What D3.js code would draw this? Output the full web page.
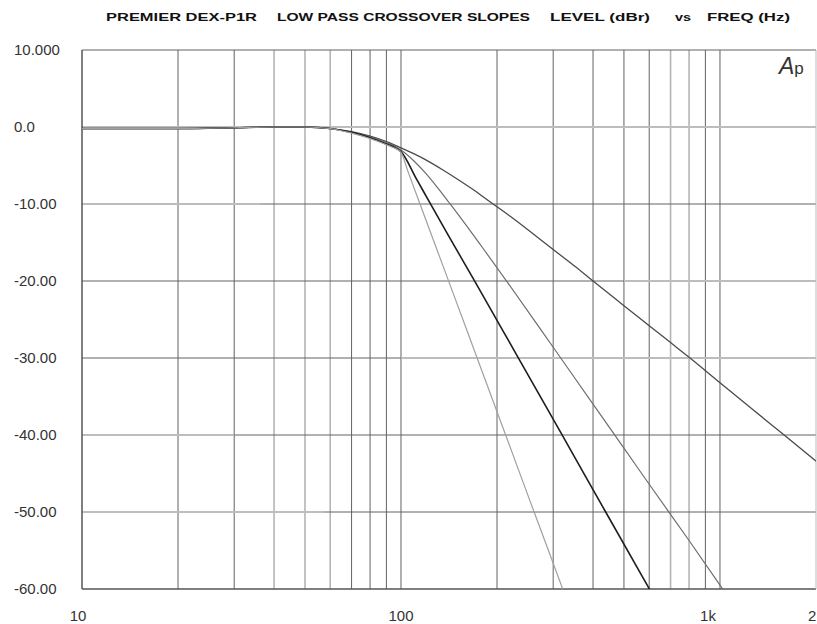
<!DOCTYPE html>
<html>
<head>
<meta charset="utf-8">
<script src="https://cdn.jsdelivr.net/npm/d3@7"></script>
<style>
    body { margin: 0; background: #fff; }
    svg { display: block; font-family: "Liberation Sans", Arial, sans-serif; }
</style>
</head>
<body>
<svg id="chart" width="817" height="624"></svg>
<script>
// Level (dBr) vs frequency (Hz)
const freqA  = [10, 20, 30, 40, 50, 60, 70, 80, 90, 100, 110, 120, 135, 150, 170, 190, 220, 250, 300, 350, 400, 500, 600, 700, 800, 1000, 1250, 1600, 2000];
const levelA = [-0.2, -0.2, -0.1, 0, 0, -0.2, -0.6, -1.2, -1.9, -2.7, -3.5, -4.3, -5.55, -6.75, -8.25, -9.7, -11.6, -13.35, -15.9, -18.05, -20.0, -23.2, -25.8, -28.0, -29.9, -33.2, -36.5, -40.1, -43.4];

const freqB  = [10, 20, 30, 40, 50, 60, 70, 80, 90, 100, 110, 120, 130, 142, 160, 180, 216, 300, 400, 500, 600, 800, 1000, 1100];
const levelB = [-0.2, -0.2, -0.1, 0, 0, -0.2, -0.7, -1.3, -2.0, -3.0, -4.45, -6.1, -7.85, -9.9, -12.75, -15.65, -20.2, -28.6, -36.0, -41.7, -46.4, -53.7, -59.5, -62.0];

const freqC  = [10, 20, 30, 40, 50, 60, 70, 80, 90, 95, 100, 112, 123, 140, 168.5, 229, 318, 430, 595, 620];
const levelC = [-0.2, -0.2, -0.1, 0, 0, -0.2, -0.7, -1.4, -2.2, -2.6, -3.2, -6.8, -9.8, -13.9, -19.7, -29.4, -39.8, -49.4, -59.7, -61.0];

const freqD  = [10, 20, 30, 40, 50, 60, 70, 80, 90, 95, 100, 105, 114, 139, 168, 212, 263, 326, 340];
const levelD = [-0.2, -0.2, -0.1, 0, 0, -0.2, -0.8, -1.5, -2.3, -2.7, -3.3, -5.7, -9.7, -19.3, -28.5, -39.8, -50.3, -60.7, -62.8];

// Axis ticks and labels
const yTicks      = [10, 0, -10, -20, -30, -40, -50, -60];
const yTickLabels = ["10.000", "0.0", "-10.00", "-20.00", "-30.00", "-40.00", "-50.00", "-60.00"];
const xLabelFreqs = [10, 100, 1000, 2000];
const xLabels     = ["10", "100", "1k", "2"];
const xGridFreqs  = [20, 30, 40, 50, 60, 70, 80, 90, 100, 200, 300, 400, 500, 600, 700, 800, 900, 1000];
const lightXGrid  = [40, 50, 60, 700, 800];

const titleParts = ["PREMIER DEX-P1R", "LOW PASS CROSSOVER SLOPES", "LEVEL  (dBr)", "vs", "FREQ  (Hz)"];

const svg = d3.select("#chart");

const x = d3.scaleLog().domain([10, 2000]).range([82, 816]);
const y = d3.scaleLinear().domain([-60, 10]).range([589, 50]);

// Title, each piece stretched to its width in the original
const titleX = [106, 277, 550, 675, 707];
const titleW = [151, 253, 100, 16, 83];
svg.append("g").selectAll("text")
    .data(titleParts)
    .join("text")
        .attr("x", (d, i) => titleX[i])
        .attr("y", 21)
        .attr("textLength", (d, i) => titleW[i])
        .attr("lengthAdjust", "spacingAndGlyphs")
        .style("font-size", "10px")
        .style("font-weight", "bold")
        .style("fill", "#111")
        .text(d => d);

// Grid
const grid = svg.append("g");
grid.selectAll("line.vx")
    .data(xGridFreqs)
    .join("line")
        .attr("class", "vx")
        .attr("x1", d => x(d)).attr("x2", d => x(d))
        .attr("y1", y(10)).attr("y2", y(-60))
        .style("stroke", d => lightXGrid.includes(d) ? "#b5b5b5" : "#626262")
        .style("stroke-width", d => lightXGrid.includes(d) ? 1.6 : 1);

// horizontal lines: some segments come out lighter in the original plot
const hSegments = [
    {v: 10,  from: 10,  to: 2000, light: false},
    {v: 0,   from: 10,  to: 2000, light: true},
    {v: -10, from: 10,  to: 36,   light: true},
    {v: -10, from: 36,  to: 2000, light: false},
    {v: -20, from: 10,  to: 500,  light: false},
    {v: -20, from: 500, to: 2000, light: true},
    {v: -30, from: 10,  to: 100,  light: false},
    {v: -30, from: 100, to: 2000, light: true},
    {v: -40, from: 10,  to: 30,   light: true},
    {v: -40, from: 30,  to: 2000, light: false},
    {v: -50, from: 10,  to: 57,   light: true},
    {v: -50, from: 57,  to: 2000, light: false}
];
grid.selectAll("line.hy")
    .data(hSegments)
    .join("line")
        .attr("class", "hy")
        .attr("x1", d => x(d.from)).attr("x2", d => x(d.to))
        .attr("y1", d => y(d.v)).attr("y2", d => y(d.v))
        .style("stroke", d => d.light ? "#bdbdbd" : "#626262")
        .style("stroke-width", d => d.light ? 2 : 1);

// frame
svg.append("line")
    .attr("x1", x(10)).attr("x2", x(10))
    .attr("y1", y(10)).attr("y2", y(-60))
    .style("stroke", "#555").style("stroke-width", 1.5);
svg.append("line")
    .attr("x1", x(10)).attr("x2", x(2000))
    .attr("y1", y(-60)).attr("y2", y(-60))
    .style("stroke", "#555").style("stroke-width", 1.5);
svg.append("line")
    .attr("x1", x(2000)).attr("x2", x(2000))
    .attr("y1", y(10)).attr("y2", y(-60))
    .style("stroke", "#bbb").style("stroke-width", 1);

// Y labels
svg.append("g").selectAll("text")
    .data(yTicks)
    .join("text")
        .attr("x", 14)
        .attr("y", d => y(d))
        .attr("dy", "0.36em")
        .style("font-size", "15px")
        .style("fill", "#333")
        .text((d, i) => yTickLabels[i]);

// X labels
const xLabelDx = [-4, 0, -12, -8];
svg.append("g").selectAll("text")
    .data(xLabelFreqs)
    .join("text")
        .attr("x", (d, i) => x(d) + xLabelDx[i])
        .attr("y", 621)
        .attr("text-anchor", (d, i) => i == 3 ? "start" : "middle")
        .style("font-size", "15px")
        .style("fill", "#333")
        .text((d, i) => xLabels[i]);

// Ap logo
const logo = svg.append("text")
    .attr("x", 779)
    .attr("y", 74)
    .style("fill", "#333");
logo.append("tspan").style("font-size", "23px").style("font-style", "italic").text("A");
logo.append("tspan").style("font-size", "17px").text("p");

// Curves
svg.append("clipPath").attr("id", "plotclip")
    .append("rect")
        .attr("x", x(10)).attr("y", y(10))
        .attr("width", x(2000) - x(10))
        .attr("height", y(-60) - y(10));

const curves = [
    {f: freqA, v: levelA, color: "#4a4a4a", width: 1.3},
    {f: freqB, v: levelB, color: "#6e6e6e", width: 1.2},
    {f: freqC, v: levelC, color: "#1e1e1e", width: 1.6},
    {f: freqD, v: levelD, color: "#a0a0a0", width: 1.2}
];

const line = d3.line()
    .x(d => x(d[0]))
    .y(d => y(d[1]))
    .curve(d3.curveMonotoneX);

svg.append("g")
    .attr("clip-path", "url(#plotclip)")
    .selectAll("path")
    .data(curves)
    .join("path")
        .attr("d", c => line(d3.zip(c.f, c.v)))
        .style("fill", "none")
        .style("stroke", c => c.color)
        .style("stroke-width", c => c.width);
</script>
</body>
</html>
